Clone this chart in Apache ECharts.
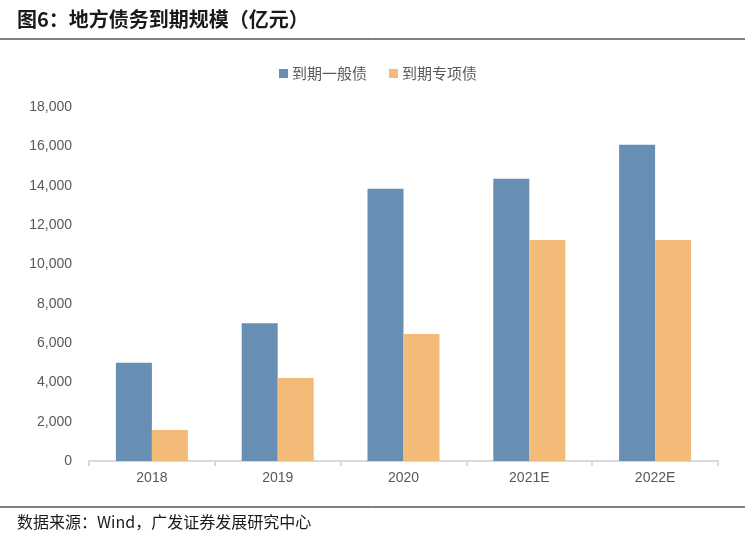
<!DOCTYPE html>
<html><head><meta charset="utf-8">
<script src="https://cdn.jsdelivr.net/npm/echarts@6/dist/echarts.min.js"></script>
<style>html,body{margin:0;padding:0;background:#fff}#c{width:756px;height:542px}</style>
</head><body><div id="c"></div>
<script>
const categories = ['2018', '2019', '2020', '2021E', '2022E'];
const generalDebt = [4990, 7010, 13840, 14350, 16080];
const specialDebt = [1580, 4220, 6460, 11240, 11240];
const seriesNames = ['到期一般债', '到期专项债'];
const titleText = '图6：地方债务到期规模（亿元）';
const sourceText = '数据来源：Wind，广发证券发展研究中心';

const chart = echarts.init(document.getElementById('c'));
chart.setOption({
  backgroundColor: '#fff',
  animation: false,
  graphic: [
    {type: 'text', left: 17, top: 9, style: {text: titleText, font: 'bold 20px "Noto Sans CJK SC", sans-serif', fill: '#1a1a1a'}},
    {type: 'line', shape: {x1: 0, y1: 39, x2: 745, y2: 39}, style: {stroke: '#000', lineWidth: 1}},
    {type: 'line', shape: {x1: 0, y1: 507, x2: 745, y2: 507}, style: {stroke: '#000', lineWidth: 1}},
    {type: 'text', left: 17, top: 514, style: {text: sourceText, font: '16px "Noto Sans CJK SC", sans-serif', fill: '#1a1a1a'}}
  ],
  legend: {
    top: 61, left: 'center',
    itemWidth: 9, itemHeight: 9, itemGap: 22,
    icon: 'rect',
    textStyle: {color: '#595959', fontSize: 15, padding: [0, 0, 0, -1], fontFamily: '"Noto Sans CJK SC", sans-serif'},
    data: seriesNames
  },
  grid: {left: 89, right: 38, top: 107, bottom: 81, containLabel: false},
  xAxis: {
    type: 'category', data: categories,
    axisLine: {lineStyle: {color: '#D9D9D9', width: 2}},
    axisTick: {show: true, alignWithLabel: false, length: 5, lineStyle: {color: '#D9D9D9', width: 2}},
    axisLabel: {color: '#595959', fontSize: 14, fontFamily: 'Arial, "Liberation Sans", sans-serif', margin: 10}
  },
  yAxis: {
    type: 'value', min: 0, max: 18000, interval: 2000,
    axisLine: {show: false}, axisTick: {show: false},
    splitLine: {show: false},
    axisLabel: {color: '#595959', fontSize: 14, fontFamily: 'Arial, "Liberation Sans", sans-serif', margin: 17,
      formatter: v => v.toLocaleString('en-US')}
  },
  series: [
    {name: seriesNames[0], type: 'bar', data: generalDebt, barWidth: 36, barGap: '0%', itemStyle: {color: '#678EB3'}},
    {name: seriesNames[1], type: 'bar', data: specialDebt, barWidth: 36, barGap: '0%', itemStyle: {color: '#F2BB78'}}
  ]
});
</script></body></html>
